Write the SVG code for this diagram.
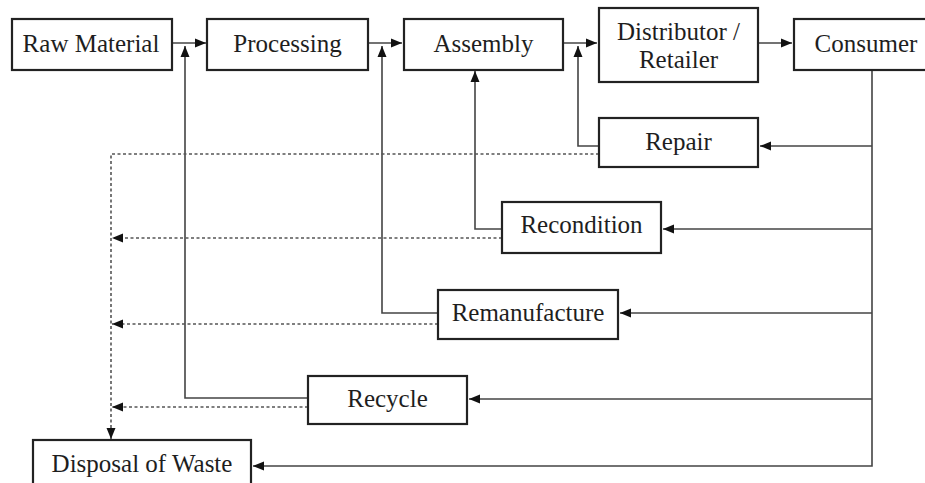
<svg xmlns="http://www.w3.org/2000/svg" width="925" height="483" viewBox="0 0 925 483">
<style>
.box{fill:#fff;stroke:#222;stroke-width:2.2}
.lbl{font-family:'Liberation Serif','Times New Roman',serif;font-size:25px;fill:#1e1e1e;text-anchor:middle}
.solid{fill:none;stroke:#444;stroke-width:1.6}
.dot{fill:none;stroke:#555;stroke-width:1.6;stroke-dasharray:3 2.5}
</style>
<defs>
<marker id="arr" markerUnits="userSpaceOnUse" markerWidth="12" markerHeight="12" viewBox="0 0 12 12" refX="11" refY="6" orient="auto">
<path d="M0,1.5 L11,6 L0,10.5 Z" fill="#111"/>
</marker>
</defs>
<rect width="925" height="483" fill="#fff"/>
<g id="connectors">
<path class="solid" d="M172,43 H206" marker-end="url(#arr)"/>
<path class="solid" d="M368,43 H402" marker-end="url(#arr)"/>
<path class="solid" d="M563,43 H597" marker-end="url(#arr)"/>
<path class="solid" d="M758,43 H792" marker-end="url(#arr)"/>
<path class="solid" d="M599,146 H578 V46" marker-end="url(#arr)"/>
<path class="solid" d="M502,229 H475 V71" marker-end="url(#arr)"/>
<path class="solid" d="M438,313 H382 V46" marker-end="url(#arr)"/>
<path class="solid" d="M308,398 H185 V46" marker-end="url(#arr)"/>
<path class="solid" d="M872,70 V466 H253" marker-end="url(#arr)"/>
<path class="solid" d="M872,146 H760" marker-end="url(#arr)"/>
<path class="solid" d="M872,229 H663" marker-end="url(#arr)"/>
<path class="solid" d="M872,313 H620" marker-end="url(#arr)"/>
<path class="solid" d="M872,399 H469" marker-end="url(#arr)"/>
<path class="dot" d="M599,154 H111 V439" marker-end="url(#arr)"/>
<path class="dot" d="M502,238 H112" marker-end="url(#arr)"/>
<path class="dot" d="M438,324 H112" marker-end="url(#arr)"/>
<path class="dot" d="M308,407 H112" marker-end="url(#arr)"/>
</g>
<g id="raw-material"><rect class="box" x="12" y="19" width="160" height="51"/><text class="lbl" x="91" y="52">Raw Material</text></g>
<g id="processing"><rect class="box" x="207" y="19" width="161" height="51"/><text class="lbl" x="287.5" y="52">Processing</text></g>
<g id="assembly"><rect class="box" x="404" y="19" width="159" height="51"/><text class="lbl" x="483.5" y="52">Assembly</text></g>
<g id="distributor"><rect class="box" x="599" y="8" width="159" height="74"/><text class="lbl" x="678.5" y="40">Distributor /</text><text class="lbl" x="678.5" y="68">Retailer</text></g>
<g id="consumer"><rect class="box" x="794" y="19" width="144" height="51"/><text class="lbl" x="866" y="52">Consumer</text></g>
<g id="repair"><rect class="box" x="599" y="118" width="159" height="49"/><text class="lbl" x="678.5" y="150">Repair</text></g>
<g id="recondition"><rect class="box" x="502" y="202" width="159" height="51"/><text class="lbl" x="581.5" y="233">Recondition</text></g>
<g id="remanufacture"><rect class="box" x="438" y="290" width="180" height="49"/><text class="lbl" x="528" y="321">Remanufacture</text></g>
<g id="recycle"><rect class="box" x="308" y="376" width="159" height="48"/><text class="lbl" x="387.5" y="407">Recycle</text></g>
<g id="disposal"><rect class="box" x="33" y="440" width="218" height="50"/><text class="lbl" x="142" y="472">Disposal of Waste</text></g>
</svg>
